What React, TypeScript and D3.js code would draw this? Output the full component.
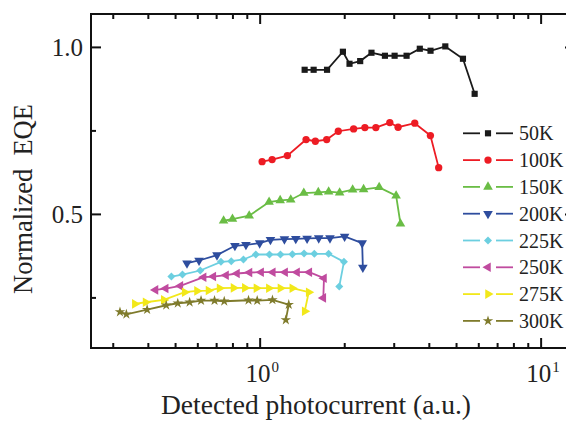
import React from "react";
import * as d3 from "d3";

// Temperature series: detected photocurrent (a.u.) vs normalized EQE
const x50K = [1.44, 1.55, 1.73, 1.97, 2.08, 2.27, 2.49, 2.78, 3.01, 3.32, 3.70, 4.04, 4.56, 5.27, 5.80];
const y50K = [0.933, 0.933, 0.933, 0.987, 0.951, 0.959, 0.984, 0.975, 0.975, 0.975, 0.996, 0.990, 1.003, 0.966, 0.861];

const x100K = [1.016, 1.103, 1.25, 1.457, 1.572, 1.725, 1.897, 2.151, 2.359, 2.581, 2.894, 3.097, 3.55, 4.036, 4.319];
const y100K = [0.658, 0.664, 0.676, 0.724, 0.719, 0.724, 0.749, 0.756, 0.76, 0.76, 0.775, 0.761, 0.773, 0.736, 0.64];

const x150K = [0.741, 0.797, 0.914, 1.076, 1.178, 1.285, 1.43, 1.61, 1.753, 1.918, 2.134, 2.334, 2.652, 3.047, 3.158];
const y150K = [0.481, 0.486, 0.496, 0.537, 0.542, 0.544, 0.564, 0.566, 0.568, 0.565, 0.574, 0.575, 0.581, 0.556, 0.472];

const x200K = [0.549, 0.606, 0.702, 0.813, 0.89, 0.996, 1.088, 1.22, 1.339, 1.469, 1.616, 1.772, 1.998, 2.307, 2.32];
const y200K = [0.354, 0.362, 0.378, 0.406, 0.409, 0.414, 0.424, 0.426, 0.427, 0.428, 0.429, 0.429, 0.434, 0.414, 0.341];

const x225K = [0.483, 0.529, 0.612, 0.725, 0.789, 0.872, 0.965, 1.079, 1.181, 1.302, 1.433, 1.559, 1.753, 1.987, 1.912];
const y225K = [0.314, 0.32, 0.332, 0.358, 0.36, 0.365, 0.38, 0.38, 0.38, 0.381, 0.383, 0.382, 0.382, 0.358, 0.284];

const x250K = [0.424, 0.461, 0.52, 0.629, 0.681, 0.756, 0.827, 0.916, 1.008, 1.109, 1.227, 1.353, 1.496, 1.687, 1.678];
const y250K = [0.274, 0.278, 0.286, 0.312, 0.314, 0.318, 0.323, 0.326, 0.327, 0.327, 0.327, 0.327, 0.327, 0.309, 0.25];

const x275K = [0.358, 0.391, 0.454, 0.539, 0.596, 0.655, 0.717, 0.804, 0.882, 0.97, 1.074, 1.181, 1.302, 1.489, 1.441];
const y275K = [0.232, 0.237, 0.244, 0.267, 0.271, 0.272, 0.279, 0.28, 0.28, 0.279, 0.279, 0.279, 0.279, 0.267, 0.21];

const x300K = [0.317, 0.334, 0.396, 0.463, 0.509, 0.561, 0.616, 0.688, 0.745, 0.909, 0.976, 1.106, 1.264, 1.234];
const y300K = [0.208, 0.201, 0.215, 0.228, 0.234, 0.237, 0.242, 0.242, 0.24, 0.243, 0.242, 0.244, 0.23, 0.184];

const seriesLabels = ["50K", "100K", "150K", "200K", "225K", "250K", "275K", "300K"];
const seriesX = [x50K, x100K, x150K, x200K, x225K, x250K, x275K, x300K];
const seriesY = [y50K, y100K, y150K, y200K, y225K, y250K, y275K, y300K];
const seriesColors = ["#1a1a1a", "#ed1c24", "#6abd45", "#2e4d9e", "#6ccfe0", "#c04b9f", "#f2e81a", "#7f7b2c"];

const yMajorTicks = [0.5, 1.0];
const yMinorTicks = [0.25, 0.75];
const xMajorTicks = [1, 10];
const xMinorTicks = [0.3, 0.4, 0.5, 0.6, 0.7, 0.8, 0.9, 2, 3, 4, 5, 6, 7, 8, 9];

const W = 566;
const H = 423;
const left = 91;
const right = 575;
const top = 14;
const bottom = 348;
const FONT = "'Liberation Serif', 'Times New Roman', serif";

const x = d3.scaleLog().domain([0.25, 13.2]).range([left, right]);
const y = d3.scaleLinear().domain([0.1, 1.1]).range([bottom, top]);

// marker shape per series: square, circle, up, down, diamond, left, right, star
type MarkerDef = { type: d3.SymbolType; size: number; rotate: number };
const markers: MarkerDef[] = [
  { type: d3.symbolSquare, size: 38, rotate: 0 },
  { type: d3.symbolCircle, size: 42, rotate: 0 },
  { type: d3.symbolTriangle, size: 40, rotate: 0 },
  { type: d3.symbolTriangle, size: 40, rotate: 180 },
  { type: d3.symbolSquare, size: 32, rotate: 45 },
  { type: d3.symbolTriangle, size: 40, rotate: -90 },
  { type: d3.symbolTriangle, size: 40, rotate: 90 },
  { type: d3.symbolStar, size: 34, rotate: 0 },
];

function Marker({ i, cx, cy }: { i: number; cx: number; cy: number }) {
  const m = markers[i];
  const path = d3.symbol().type(m.type).size(m.size)() as string;
  return (
    <path
      d={path}
      transform={`translate(${cx},${cy}) rotate(${m.rotate})`}
      fill={seriesColors[i]}
      stroke="none"
    />
  );
}

export default function App() {
  const line = d3
    .line<[number, number]>()
    .x((d) => x(d[0]))
    .y((d) => y(d[1]));

  const legendX0 = 463;
  const legendY0 = 133.3;
  const legendStep = 26.8;

  return (
    <svg
      width={W}
      height={H}
      style={{ position: "fixed", left: 0, top: 0, background: "#fff" }}
      fontFamily={FONT}
    >
      <rect x={0} y={0} width={W} height={H} fill="#fff" />

      {/* data */}
      {seriesX.map((xs, i) => {
        const pts = xs.map((v, k) => [v, seriesY[i][k]] as [number, number]);
        return (
          <g key={seriesLabels[i]}>
            <path d={line(pts) as string} fill="none" stroke={seriesColors[i]} strokeWidth={1.8} />
            {pts.map((p, k) => (
              <Marker key={k} i={i} cx={x(p[0])} cy={y(p[1])} />
            ))}
          </g>
        );
      })}

      {/* frame */}
      <rect
        x={left}
        y={top}
        width={right - left}
        height={bottom - top}
        fill="none"
        stroke="#111"
        strokeWidth={2}
      />

      {/* x ticks (bottom and top, inward) */}
      {xMajorTicks.map((t) => (
        <g key={`xM${t}`}>
          <line x1={x(t)} x2={x(t)} y1={bottom} y2={bottom - 10} stroke="#111" strokeWidth={2} />
          <line x1={x(t)} x2={x(t)} y1={top} y2={top + 10} stroke="#111" strokeWidth={2} />
          <text x={x(t) + 2} y={382} textAnchor="middle" fontSize={25} fill="#222">
            <tspan>10</tspan>
            <tspan fontSize={15} dy={-10} dx={1}>
              {t === 1 ? "0" : "1"}
            </tspan>
          </text>
        </g>
      ))}
      {xMinorTicks.map((t) => (
        <g key={`xm${t}`}>
          <line x1={x(t)} x2={x(t)} y1={bottom} y2={bottom - 5} stroke="#111" strokeWidth={2} />
          <line x1={x(t)} x2={x(t)} y1={top} y2={top + 5} stroke="#111" strokeWidth={2} />
        </g>
      ))}

      {/* y ticks (left and right, inward) */}
      {yMajorTicks.map((t) => (
        <g key={`yM${t}`}>
          <line x1={left} x2={left + 10} y1={y(t)} y2={y(t)} stroke="#111" strokeWidth={2} />
          <line x1={right} x2={right - 10} y1={y(t)} y2={y(t)} stroke="#111" strokeWidth={2} />
          <text x={83} y={y(t) + 8.5} textAnchor="end" fontSize={25} fill="#222">
            {t.toFixed(1)}
          </text>
        </g>
      ))}
      {yMinorTicks.map((t) => (
        <g key={`ym${t}`}>
          <line x1={left} x2={left + 5} y1={y(t)} y2={y(t)} stroke="#111" strokeWidth={2} />
          <line x1={right} x2={right - 5} y1={y(t)} y2={y(t)} stroke="#111" strokeWidth={2} />
        </g>
      ))}

      {/* axis titles */}
      <text x={316} y={414} textAnchor="middle" fontSize={27.5} fill="#222">
        Detected photocurrent (a.u.)
      </text>
      <text
        transform="translate(32,199) rotate(-90)"
        textAnchor="middle"
        fontSize={26.5}
        fill="#222"
        style={{ whiteSpace: "pre" }}
      >
        {"Normalized  EQE"}
      </text>

      {/* legend */}
      {seriesLabels.map((lab, i) => {
        const cy = legendY0 + i * legendStep;
        return (
          <g key={`lg${lab}`}>
            <line x1={legendX0} x2={legendX0 + 17} y1={cy} y2={cy} stroke={seriesColors[i]} strokeWidth={1.8} />
            <line x1={legendX0 + 33} x2={legendX0 + 50} y1={cy} y2={cy} stroke={seriesColors[i]} strokeWidth={1.8} />
            <Marker i={i} cx={legendX0 + 25} cy={cy} />
            <text x={519} y={cy + 7} fontSize={20} fill="#222">
              {lab}
            </text>
          </g>
        );
      })}
    </svg>
  );
}
